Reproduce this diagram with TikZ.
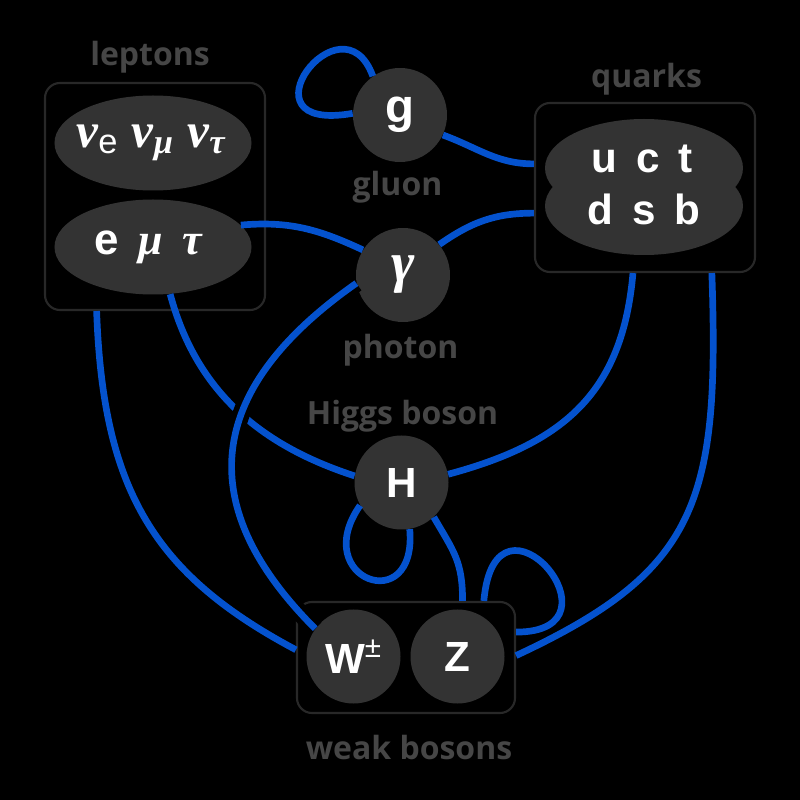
\documentclass[tikz,border=0pt]{standalone}
\usepackage{fontspec}
\setmainfont{Liberation Sans}
\newfontfamily\capfont{Open Sans}
\newfontfamily\grkfont{Liberation Serif}
\newcommand\gk[1]{{\grkfont\bfseries\itshape #1}}
\usetikzlibrary{shapes.geometric}
\definecolor{linkblue}{RGB}{4,82,206}
\definecolor{ballgray}{RGB}{51,51,51}
\definecolor{capgray}{RGB}{70,70,70}
\definecolor{rimgray}{RGB}{40,40,40}
\begin{document}
\begin{tikzpicture}[x=.2mm,y=.2mm,
    link/.style={draw=linkblue,line width=3.8pt},
    ball/.style={circle,fill=ballgray,text=white,minimum size=18.8mm,inner sep=0pt,font=\fontsize{24}{26}\selectfont\bfseries},
    blob/.style={ellipse,fill=ballgray,inner sep=0pt,minimum width=39.4mm,minimum height=19mm},
    tag/.style={text=white,inner sep=0pt,font=\fontsize{24}{26}\selectfont\bfseries},
    group/.style={draw=rimgray,line width=1.2pt,rounded corners=3mm,fill=black},
    caption/.style={text=capgray,font=\capfont\bfseries\fontsize{18.2}{20}\selectfont}]
    \useasboundingbox[fill=black](0,0)rectangle(800,800);
    \node[group,minimum width=44mm,minimum height=45.4mm](L)at(155,603.5){};
    \node[group,minimum width=44mm,minimum height=33.8mm](Q)at(645,612.5){};
    \node[group,minimum width=43.6mm,minimum height=22.2mm](V)at(406,142.5){};
    \node[blob](nu)at(153,657){};
    \node[blob](l)at(153,553){};
    \node[blob,minimum width=39.6mm,minimum height=19.6mm](qu)at(644,632){};
    \node[blob,minimum width=39.6mm,minimum height=19.6mm](qd)at(644,594){};
    \node[tag,font=\fontsize{28}{30}\selectfont\bfseries](nut)at(151,657){\gk{ν}\textsubscript{\mdseries e} \gk{ν}\textsubscript{\gk{μ}} \gk{ν}\textsubscript{\gk{τ}}};
    \node[tag,font=\fontsize{25}{28}\selectfont\bfseries](lt)at(148,553){e\hspace{.45em}\gk{μ}\hspace{.45em}\gk{τ}};
    \node[tag,anchor=base](ut)at(642,627){u\hspace{.45em}c\hspace{.45em}t};
    \node[tag,anchor=base](dt)at(644,575){d\hspace{.45em}s\hspace{.45em}b};
    \node[ball,font=\fontsize{27}{29}\selectfont\bfseries](g)at(400,685){g};
    \node[ball,font=\fontsize{32}{34}\selectfont](gam)at(403,525){\gk{γ}};
    \node[ball](H)at(401.5,317.5){H};
    \node[ball](W)at(353.5,143.5){W\textsuperscript{\mdseries ±}};
    \node[ball](Z)at(457.5,143.5){Z};
    \foreach \n/\p/\t in{cl/{150,743}/leptons,cq/{646.5,721}/quarks,cg/{397.5,612.5}/gluon,cp/{400.5,449.5}/photon,ch/{402.5,383.5}/Higgs boson,cw/{409,52.5}/weak bosons}\node[caption](\n)at(\p){\t};
    \draw[link](g.178)..controls+(190:120)and+(110:90)..(g.125);
    \draw[link](g.-25)to[out=-20,in=180](Q.168);
    \draw[link](l.14)to[out=5,in=155](gam.148);
    \draw[link](gam.40)to[out=35,in=180](Q.193);
    \draw[link](l.-70)..controls+(-75:100)and+(162:100)..(H.172);
    \draw[link,preaction={draw=black,line width=10pt}](gam.190)..controls+(215:190)and+(135:170)..(W.144);
    \draw[link](L.243)..controls+(-88:180)and+(152:160)..(V.176);
    \draw[link](H.10)..controls+(15:120)and+(-95:120)..(Q.262);
    \draw[link](H.209)..controls+(235:90)and+(-85:90)..(H.-80);
    \draw[link](H.-47)..controls+(-60:40)and+(90:40)..(V.45);
    \draw[link](V.36)..controls+(85:130)and+(0:115)..(V.13);
    \draw[link](Q.-52)..controls+(-88:230)and+(25:200)..(V.1);
\end{tikzpicture}
\end{document}
